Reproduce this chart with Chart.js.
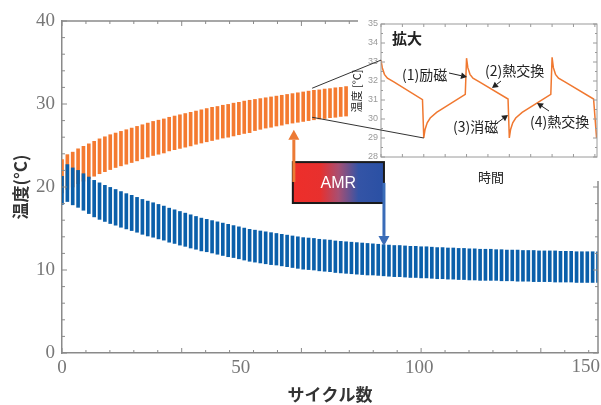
<!DOCTYPE html>
<html>
<head>
<meta charset="utf-8">
<script src="https://cdn.jsdelivr.net/npm/chart.js@4/dist/chart.umd.min.js"></script>
<style>
  body { margin: 0; background: #fff; }
  #wrap { position: relative; width: 601px; height: 405px; }
  #wrap canvas { position: absolute; left: 0; top: 0; }
  #inset { pointer-events: none; }
</style>
</head>
<body>
<div id="wrap">
  <canvas id="main" width="601" height="405"></canvas>
  <canvas id="inset" width="601" height="405"></canvas>
</div>
<script>
// cycles between two drawn teeth of the oscillation
const toothStep = 1.5;

// cold side (blue): top / bottom of each tooth
const coldHigh = [
  21.3, 22.7, 22.3, 22.0, 21.6, 21.2, 20.8, 20.5, 20.2, 19.95,
  19.7, 19.45, 19.2, 19.0, 18.75, 18.5, 18.3, 18.1, 17.9, 17.7,
  17.45, 17.25, 17.05, 16.85, 16.65, 16.45, 16.25, 16.1, 15.95, 15.8,
  15.65, 15.5, 15.35, 15.2, 15.05, 14.9, 14.8, 14.7, 14.6, 14.5,
  14.4, 14.3, 14.2, 14.1, 14.0, 13.9, 13.85, 13.8, 13.7, 13.65,
  13.6, 13.5, 13.45, 13.4, 13.35, 13.3, 13.25, 13.2, 13.15, 13.1,
  13.05, 13.0, 12.95, 12.95, 12.9, 12.85, 12.85, 12.8, 12.8, 12.75,
  12.7, 12.7, 12.65, 12.65, 12.6, 12.6, 12.55, 12.55, 12.5, 12.5,
  12.5, 12.45, 12.45, 12.4, 12.4, 12.4, 12.35, 12.35, 12.35, 12.3,
  12.3, 12.3, 12.3, 12.25, 12.25, 12.25, 12.2, 12.2, 12.2, 12.2,
  12.2
];
const coldLow = [
  17.9, 18.25, 17.85, 17.55, 17.2, 16.8, 16.4, 16.1, 15.85, 15.6,
  15.4, 15.15, 14.95, 14.75, 14.55, 14.3, 14.1, 13.95, 13.75, 13.6,
  13.35, 13.2, 13.0, 12.85, 12.65, 12.5, 12.3, 12.2, 12.05, 11.9,
  11.75, 11.6, 11.5, 11.35, 11.2, 11.05, 10.95, 10.85, 10.75, 10.65,
  10.6, 10.5, 10.4, 10.3, 10.2, 10.1, 10.05, 10.0, 9.9, 9.85,
  9.8, 9.7, 9.65, 9.6, 9.55, 9.5, 9.45, 9.4, 9.4, 9.35,
  9.3, 9.25, 9.2, 9.2, 9.15, 9.1, 9.1, 9.05, 9.05, 9.0,
  8.95, 8.95, 8.9, 8.9, 8.85, 8.85, 8.8, 8.8, 8.75, 8.75,
  8.75, 8.75, 8.7, 8.7, 8.7, 8.65, 8.65, 8.65, 8.6, 8.6,
  8.6, 8.6, 8.55, 8.55, 8.55, 8.55, 8.5, 8.5, 8.5, 8.5,
  8.5
];

// hot side (orange): top / bottom of each tooth
const hotHigh = [
  23.3, 23.9, 24.2, 24.6, 24.9, 25.2, 25.5, 25.8, 26.05, 26.3,
  26.5, 26.7, 26.9, 27.1, 27.3, 27.5, 27.7, 27.9, 28.05, 28.2,
  28.4, 28.55, 28.7, 28.85, 29.0, 29.15, 29.3, 29.45, 29.6, 29.7,
  29.85, 29.95, 30.1, 30.2, 30.35, 30.45, 30.55, 30.65, 30.75, 30.85,
  30.95, 31.05, 31.15, 31.25, 31.35, 31.45, 31.55, 31.65, 31.7, 31.8,
  31.85, 31.95, 32.0, 32.1
];
const hotLow = [
  19.3, 19.7, 20.0, 20.4, 20.7, 21.0, 21.3, 21.6, 21.85, 22.1,
  22.35, 22.55, 22.75, 22.95, 23.15, 23.4, 23.6, 23.8, 23.95, 24.1,
  24.35, 24.5, 24.65, 24.8, 24.95, 25.15, 25.3, 25.45, 25.6, 25.75,
  25.9, 26.0, 26.15, 26.3, 26.45, 26.55, 26.8, 26.95, 27.1, 27.2,
  27.35, 27.45, 27.6, 27.7, 27.8, 27.9, 28.0, 28.1, 28.2, 28.25,
  28.35, 28.4, 28.5, 28.55
];

const xTickLabels = [0, 50, 100, 150];
const yTickLabels = [0, 10, 20, 30, 40];

// inset: time in half-periods
const insetTime = [
  0, 0.03, 0.08, 0.15, 0.3, 0.97, 1.0,
  1.03, 1.08, 1.15, 1.3, 1.97, 2.0,
  2.03, 2.08, 2.15, 2.3, 2.97, 3.0,
  3.03, 3.08, 3.15, 3.3, 3.97, 4.0,
  4.03, 4.08, 4.15, 4.3, 4.97, 5.04
];
const insetTemp = [
  33.1, 32.7, 32.35, 32.15, 31.95, 31.02, 29.0,
  29.45, 29.8, 30.05, 30.35, 31.3, 33.2,
  32.7, 32.35, 32.15, 31.95, 31.05, 29.0,
  29.45, 29.8, 30.05, 30.35, 31.3, 33.25,
  32.7, 32.35, 32.15, 31.95, 31.05, 29.0
];
const insetTickLabels = [28, 29, 30, 31, 32, 33, 34, 35];
const stepLabels = ["(1)励磁", "(2)熱交換", "(3)消磁", "(4)熱交換"];

const HOT = "#f47a30";
const COLD = "#0a5faa";
const FRAME = "#8a8a8a";
const TICK_FONT = "19px 'Liberation Serif'";

function teeth(highs, lows) {
  return highs.map((h, i) => ({ x: i * toothStep, y: [lows[i], h] }));
}

const mainTicks = {
  id: "mainTicks",
  afterDraw(chart) {
    const { ctx, chartArea: a, scales: { x, y } } = chart;
    ctx.save();
    ctx.strokeStyle = FRAME;
    ctx.lineWidth = 1.5;
    ctx.beginPath();
    ctx.moveTo(a.left, a.top);
    ctx.lineTo(a.right, a.top);
    ctx.lineTo(a.right, a.bottom);
    ctx.stroke();
    ctx.lineWidth = 1;
    ctx.beginPath();
    for (let i = 0; i * 6.7 <= 150; i++) {
      const px = x.getPixelForValue(i * 6.7);
      const len = i % 5 === 0 ? 5 : 3;
      ctx.moveTo(px, a.bottom); ctx.lineTo(px, a.bottom - len);
      ctx.moveTo(px, a.top); ctx.lineTo(px, a.top + len);
    }
    for (let v = 0; v <= 40; v += 2) {
      const py = y.getPixelForValue(v);
      const len = v % 10 === 0 ? 5 : 3;
      ctx.moveTo(a.left, py); ctx.lineTo(a.left + len, py);
      ctx.moveTo(a.right, py); ctx.lineTo(a.right - len, py);
    }
    ctx.stroke();
    // last x label kept inside the canvas
    const last = xTickLabels[xTickLabels.length - 1];
    ctx.font = TICK_FONT;
    ctx.fillStyle = "#777";
    ctx.textAlign = "right";
    ctx.textBaseline = "middle";
    ctx.fillText(String(last), Math.min(x.getPixelForValue(last) + 15, 600), a.bottom + 14);
    ctx.restore();
  }
};

const mainChart = new Chart(document.getElementById("main"), {
  type: "bar",
  data: {
    datasets: [
      { label: "cold", data: teeth(coldHigh, coldLow), backgroundColor: COLD },
      { label: "hot", data: teeth(hotHigh, hotLow), backgroundColor: HOT }
    ]
  },
  options: {
    responsive: false,
    animation: false,
    grouped: false,
    barThickness: 3,
    layout: { padding: { top: 21, right: 3, left: 0, bottom: 0 } },
    plugins: { legend: { display: false }, tooltip: { enabled: false } },
    scales: {
      x: {
        type: "linear", min: 0, max: 150, offset: false,
        grid: { display: false, drawTicks: false },
        border: { color: FRAME, width: 1.5 },
        ticks: {
          font: { family: "Liberation Serif", size: 19 }, color: "#777", padding: 4, maxRotation: 0,
          callback: (v) => (v === xTickLabels[xTickLabels.length - 1] ? "" : v)
        },
        afterBuildTicks: (s) => { s.ticks = xTickLabels.map((v) => ({ value: v })); },
        afterFit: (s) => { s.height = 52; s.paddingLeft = 0; s.paddingRight = 0; },
        title: {
          display: true, text: "サイクル数", color: "#333",
          font: { family: "Noto Sans CJK JP", size: 17, weight: "bold" },
          padding: { top: 2, bottom: 0 }
        }
      },
      y: {
        min: 0, max: 40,
        grid: { display: false, drawTicks: false },
        border: { color: FRAME, width: 1.5 },
        ticks: { font: { family: "Liberation Serif", size: 19 }, color: "#777", padding: 7 },
        afterBuildTicks: (s) => { s.ticks = yTickLabels.map((v) => ({ value: v })); },
        afterFit: (s) => { s.width = 62; s.paddingTop = 0; s.paddingBottom = 0; },
        title: {
          display: true, text: "温度(°C)", color: "#333",
          font: { family: "Noto Sans CJK JP", size: 17, weight: "bold" },
          padding: { top: 10, bottom: 0 }
        }
      }
    }
  },
  plugins: [mainTicks]
});

function arrow(ctx, x0, y0, x1, y1, head, width, color) {
  const ang = Math.atan2(y1 - y0, x1 - x0);
  const bx = x1 - head * Math.cos(ang), by = y1 - head * Math.sin(ang);
  ctx.strokeStyle = color;
  ctx.fillStyle = color;
  ctx.lineWidth = width;
  ctx.beginPath(); ctx.moveTo(x0, y0); ctx.lineTo(bx, by); ctx.stroke();
  const hw = head * 0.55;
  ctx.beginPath();
  ctx.moveTo(x1, y1);
  ctx.lineTo(bx + hw * Math.sin(ang), by - hw * Math.cos(ang));
  ctx.lineTo(bx - hw * Math.sin(ang), by + hw * Math.cos(ang));
  ctx.closePath(); ctx.fill();
}

const insetDeco = {
  id: "insetDeco",
  beforeDraw(chart) {
    const ctx = chart.ctx;
    ctx.save();
    ctx.fillStyle = "#fff";
    ctx.fillRect(358, 0, 243, 181);
    ctx.restore();
  },
  afterDraw(chart) {
    const { ctx, chartArea: a, scales: { x, y } } = chart;
    const mx = mainChart.scales.x, my = mainChart.scales.y;
    ctx.save();
    // frame + inward ticks
    ctx.strokeStyle = "#9a9a9a";
    ctx.lineWidth = 1;
    ctx.strokeRect(a.left, a.top, a.right - a.left, a.bottom - a.top);
    ctx.beginPath();
    for (let v = 28; v <= 35; v += 0.5) {
      const py = y.getPixelForValue(v);
      const len = v % 1 === 0 ? 4 : 2;
      ctx.moveTo(a.left, py); ctx.lineTo(a.left + len, py);
      ctx.moveTo(a.right, py); ctx.lineTo(a.right - len, py);
    }
    for (let t = 0; t <= 5.05; t += 0.5) {
      const px = x.getPixelForValue(t);
      ctx.moveTo(px, a.top); ctx.lineTo(px, a.top + 3);
      ctx.moveTo(px, a.bottom); ctx.lineTo(px, a.bottom - 3);
    }
    ctx.stroke();

    // zoom connector lines
    ctx.strokeStyle = "#333";
    ctx.lineWidth = 1;
    ctx.beginPath();
    ctx.moveTo(mx.getPixelForValue(70), my.getPixelForValue(31.9));
    ctx.lineTo(x.getPixelForValue(insetTime[0]), y.getPixelForValue(insetTemp[0]));
    ctx.moveTo(mx.getPixelForValue(70), my.getPixelForValue(28.4));
    ctx.lineTo(x.getPixelForValue(insetTime[6]), y.getPixelForValue(insetTemp[6]));
    ctx.stroke();

    // texts
    ctx.fillStyle = "#222";
    ctx.textBaseline = "middle";
    ctx.textAlign = "left";
    ctx.font = "bold 15px 'Noto Sans CJK JP'";
    ctx.fillText("拡大", a.left + 11, a.top + 14);
    ctx.font = "14px 'Noto Sans CJK JP'";
    ctx.fillText(stepLabels[0], 402, 75);
    ctx.fillText(stepLabels[1], 485, 71);
    ctx.fillText(stepLabels[2], 453, 127);
    ctx.fillText(stepLabels[3], 530, 122);
    ctx.textAlign = "center";
    ctx.font = "13px 'Noto Sans CJK JP'";
    ctx.fillText("時間", (a.left + a.right) / 2 + 2, 177);
    ctx.save();
    ctx.translate(357, 91);
    ctx.rotate(-Math.PI / 2);
    ctx.font = "11px 'Noto Sans CJK JP'";
    ctx.fillText("温度 [°C]", 0, 0);
    ctx.restore();

    arrow(ctx, 449, 73, 467, 77, 6, 1, "#222");
    arrow(ctx, 501, 81, 492, 88, 6, 1, "#222");
    arrow(ctx, 497, 123, 508, 115, 6, 1, "#222");
    arrow(ctx, 549, 111, 537, 103, 6, 1, "#222");

    // AMR block and heat arrows
    const bx0 = mx.getPixelForValue(64.6), bx1 = mx.getPixelForValue(90.1);
    const by0 = my.getPixelForValue(23.0), by1 = my.getPixelForValue(18.07);
    const g = ctx.createLinearGradient(bx0, 0, bx1, 0);
    g.addColorStop(0, "#ee2e2a");
    g.addColorStop(0.3, "#e8302e");
    g.addColorStop(0.5, "#a84f72");
    g.addColorStop(0.72, "#3454a6");
    g.addColorStop(1, "#2a50a4");
    ctx.fillStyle = g;
    ctx.fillRect(bx0, by0, bx1 - bx0, by1 - by0);
    ctx.strokeStyle = "#1a1a1a";
    ctx.lineWidth = 2;
    ctx.strokeRect(bx0, by0, bx1 - bx0, by1 - by0);
    ctx.fillStyle = "#fff";
    ctx.font = "16px 'Liberation Sans'";
    ctx.fillText("AMR", (bx0 + bx1) / 2, (by0 + by1) / 2 + 1);

    arrow(ctx, bx0 + 1, my.getPixelForValue(20.6), bx0 + 1, my.getPixelForValue(26.9), 10, 3, "#ec7a35");
    arrow(ctx, bx1, my.getPixelForValue(20.5), bx1, my.getPixelForValue(12.9), 10, 3, "#3a6cb8");
    ctx.restore();
  }
};

new Chart(document.getElementById("inset"), {
  type: "line",
  data: {
    datasets: [{
      data: insetTime.map((t, i) => ({ x: t, y: insetTemp[i] })),
      borderColor: "#f07830", borderWidth: 1.5, pointRadius: 0, tension: 0, fill: false
    }]
  },
  options: {
    responsive: false,
    animation: false,
    events: [],
    layout: { padding: { top: 24, right: 4, left: 0, bottom: 248 } },
    plugins: { legend: { display: false }, tooltip: { enabled: false } },
    scales: {
      x: { type: "linear", min: 0, max: 5.05, display: false },
      y: {
        min: 28, max: 35,
        grid: { display: false, drawTicks: false },
        border: { display: false },
        ticks: { font: { family: "Liberation Sans", size: 9 }, color: "#999", padding: 3 },
        afterBuildTicks: (s) => { s.ticks = insetTickLabels.map((v) => ({ value: v })); },
        afterFit: (s) => { s.width = 381; s.paddingTop = 0; s.paddingBottom = 0; }
      }
    }
  },
  plugins: [insetDeco]
});
</script>
</body>
</html>
